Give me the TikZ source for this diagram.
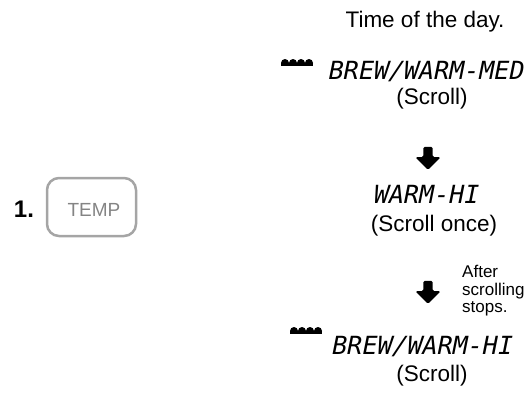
\documentclass[tikz,border=0pt]{standalone}
\usepackage{fontspec}
\setmainfont{Liberation Sans}
\newfontfamily\lcdfont[FakeSlant=0.2]{DejaVu Sans Mono}
\usetikzlibrary{positioning,shapes.arrows}
\definecolor{btngray}{RGB}{165,165,165}

\begin{document}
\begin{tikzpicture}[x=1bp,y=-1bp,
  txt/.style={inner sep=0pt,font=\fontsize{22.5bp}{26bp}\selectfont},
  lcd/.style={inner sep=0pt,font=\lcdfont\fontsize{25bp}{28bp}\selectfont},
  downarrow/.style={single arrow,fill=black,draw=none,inner sep=4.5bp,
        minimum height=23bp,minimum width=24bp,single arrow head extend=8bp,
        rounded corners=1.5bp,shape border rotate=270}]
\useasboundingbox (0,0) rectangle (529,393);
% key on the left
\node[inner sep=0pt,font=\fontsize{24bp}{28bp}\selectfont\bfseries] (num) at (24,209) {1.};
\node[draw=btngray,line width=2.5bp,rounded corners=12bp,
      minimum width=89bp,minimum height=58bp] (btn) at (91.5,207) {};
\node[inner sep=0pt,text=btngray!80!black,font=\fontsize{19bp}{22bp}\selectfont] (temp) at (94,210) {TEMP};
% display sequence
\node[txt] (time) at (425,22) {Time of the day.};
\node[lcd] (brewmed) at (425,72) {BREW/WARM-MED};
\node[txt] (scrollA) at (432,99) {(Scroll)};
\node[downarrow] (arrA) at (428,156) {};
\node[lcd] (warmhi) at (425,194) {WARM-HI};
\node[txt] (scrollonce) at (434,226) {(Scroll once)};
\node[downarrow] (arrB) at (428,290) {};
\node[inner sep=0pt,anchor=west,align=left,
      font=\fontsize{17bp}{17.5bp}\selectfont] (after) at (462,291) {After\\scrolling\\stops.};
\node[lcd] (brewhi) at (421,347) {BREW/WARM-HI};
\node[txt] (scrollB) at (432,376) {(Scroll)};
% cup icons
\foreach \cx/\cy in {297/62,306/330} {
  \fill (\cx-16,\cy+1) rectangle (\cx+16,\cy+4);
  \foreach \k in {0,1,2,3}
    \fill (\cx-16+\k*8,\cy+1) arc[start angle=180,end angle=0,radius=4bp];
}
\end{tikzpicture}
\end{document}
